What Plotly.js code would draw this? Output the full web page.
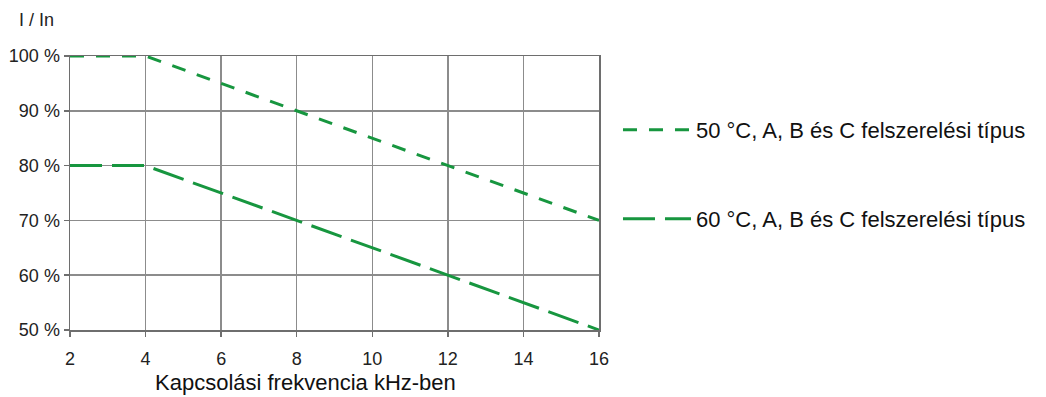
<!DOCTYPE html>
<html>
<head>
<meta charset="utf-8">
<script src="https://cdn.plot.ly/plotly-3.0.1.min.js"></script>
<style>html,body{margin:0;padding:0;background:#fff;}#chart{width:1046px;height:397px;}</style>
</head>
<body>
<div id="chart"></div>
<script>
const freq = [2, 4, 16];
const curve50 = [100, 100, 70];
const curve60 = [80, 80, 50];
const seriesNames = ["50 °C, A, B és C felszerelési típus", "60 °C, A, B és C felszerelési típus"];
const xTicks = [2, 4, 6, 8, 10, 12, 14, 16];
const yTicks = [50, 60, 70, 80, 90, 100];
const yTickLabels = ["50 %", "60 %", "70 %", "80 %", "90 %", "100 %"];
const xTitle = "Kapcsolási frekvencia kHz-ben";
const yTitle = "I / In";

const green = "#17963f";
const font = "Liberation Sans, Arial, sans-serif";

const traces = [
  {x: freq, y: curve50, name: seriesNames[0], mode: "lines", legend: "legend",
   line: {color: green, width: 3, dash: "14px,12px"}},
  {x: freq, y: curve60, name: seriesNames[1], mode: "lines", legend: "legend2",
   line: {color: green, width: 3, dash: "32px,10px"}}
];

const legendCommon = {
  xref: "paper", yref: "paper", xanchor: "left", yanchor: "middle",
  font: {family: font, size: 22, color: "#111"}, bgcolor: "rgba(0,0,0,0)",
  itemwidth: 68, itemclick: false, itemdoubleclick: false
};

const layout = {
  width: 1046, height: 397,
  margin: {l: 70, r: 447, t: 56, b: 67},
  paper_bgcolor: "#fff", plot_bgcolor: "#fff",
  font: {family: font, size: 18, color: "#222"},
  showlegend: true,
  legend: Object.assign({}, legendCommon, {x: 1.0359, y: 0.730}),
  legend2: Object.assign({}, legendCommon, {x: 1.0359, y: 0.405}),
  xaxis: {
    range: [2, 16], tickvals: xTicks, ticktext: xTicks.map(String),
    showgrid: true, gridcolor: "#8c8c8c", gridwidth: 1.5,
    showline: true, linecolor: "#6e6e6e", linewidth: 1.5, mirror: true,
    ticks: "outside", ticklen: 5, tickcolor: "#6e6e6e", tickwidth: 1.5,
    ticklabelstandoff: 7,
    tickfont: {family: font, size: 18, color: "#222"}, zeroline: false, fixedrange: true
  },
  yaxis: {
    range: [50, 100], tickvals: yTicks, ticktext: yTickLabels,
    showgrid: true, gridcolor: "#8c8c8c", gridwidth: 1.5,
    showline: true, linecolor: "#6e6e6e", linewidth: 1.5, mirror: true,
    ticks: "outside", ticklen: 5, tickcolor: "#6e6e6e", tickwidth: 1.5,
    tickfont: {family: font, size: 18, color: "#222"}, zeroline: false, fixedrange: true
  },
  annotations: [
    {text: yTitle, xref: "paper", yref: "paper", x: -0.0624, y: 1.131, xanchor: "center", yanchor: "middle",
     showarrow: false, font: {family: font, size: 18, color: "#222"}},
    {text: xTitle, xref: "paper", yref: "paper", x: 0.446, y: -0.193, xanchor: "center", yanchor: "middle",
     showarrow: false, font: {family: font, size: 22, color: "#111"}}
  ]
};

Plotly.newPlot("chart", traces, layout, {displayModeBar: false, staticPlot: true});
</script>
</body>
</html>
